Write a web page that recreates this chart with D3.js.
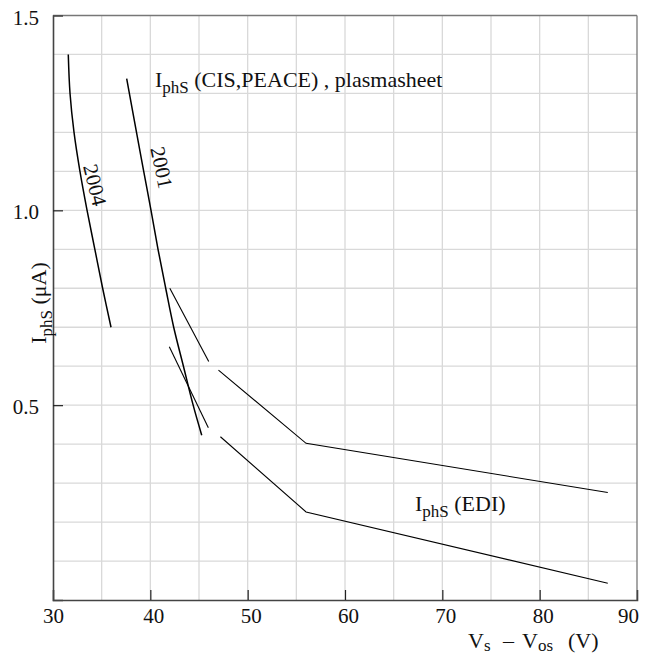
<!DOCTYPE html>
<html><head><meta charset="utf-8">
<script src="https://cdn.jsdelivr.net/npm/d3@7"></script>
<style>body{margin:0;background:#fff}svg{display:block}</style>
</head><body>
<script>
// ---- data ----
const xTicks = [30, 40, 50, 60, 70, 80, 90];
const yTicks = [0.5, 1.0, 1.5];
const xGrid = [35, 40, 45, 50, 55, 60, 65, 70, 75, 80, 85];
const yGrid = [0.1, 0.2, 0.3, 0.4, 0.5, 0.6, 0.7, 0.8, 0.9, 1.0, 1.1, 1.2, 1.3, 1.4];

const x2004 = [31.57, 31.75, 32.16, 32.77, 33.5, 34.3, 35.1, 35.96];
const y2004 = [1.40, 1.30, 1.20, 1.10, 1.00, 0.90, 0.80, 0.70];

const x2001 = [37.57, 38.58, 39.32, 40.07, 40.79, 41.58, 42.4, 43.4, 44.4, 45.28];
const y2001 = [1.338, 1.20, 1.10, 1.00, 0.90, 0.80, 0.70, 0.60, 0.50, 0.423];

const xEdiUpperA = [42.0, 46.0];
const yEdiUpperA = [0.80, 0.612];
const xEdiUpperB = [47.0, 56.0, 87.0];
const yEdiUpperB = [0.590, 0.402, 0.276];
const xEdiLowerA = [41.95, 45.96];
const yEdiLowerA = [0.650, 0.442];
const xEdiLowerB = [47.2, 56.0, 87.0];
const yEdiLowerB = [0.419, 0.226, 0.043];

// ---- chart ----
const W = 656, H = 656;
const FONT = "'Liberation Serif', 'DejaVu Serif', serif";
const FS = 22, TFS = 21, SFS = 17;
const svg = d3.select("body").append("svg").attr("width", W).attr("height", H)
  .style("font-family", FONT);

const x = d3.scaleLinear().domain([30, 90]).range([53, 637]);
const y = d3.scaleLinear().domain([0, 1.5]).range([600, 15.5]);

// grid
svg.append("g").selectAll("line").data(xGrid).join("line")
  .attr("x1", d => x(d)).attr("x2", d => x(d))
  .attr("y1", y(0)).attr("y2", y(1.5))
  .attr("stroke", "#d9d9d9").attr("stroke-width", 1.3);
svg.append("g").selectAll("line").data(yGrid).join("line")
  .attr("x1", x(30)).attr("x2", x(90))
  .attr("y1", d => y(d)).attr("y2", d => y(d))
  .attr("stroke", "#d9d9d9").attr("stroke-width", 1.3);

// frame top/right
svg.append("line").attr("x1", x(30)).attr("x2", x(90)).attr("y1", y(1.5)).attr("y2", y(1.5))
  .attr("stroke", "#777").attr("stroke-width", 1.3);
svg.append("line").attr("x1", x(90)).attr("x2", x(90)).attr("y1", y(0)).attr("y2", y(1.5))
  .attr("stroke", "#777").attr("stroke-width", 1.3);

// axes
const xAxis = d3.axisBottom(x).tickValues(xTicks).tickSize(-10).tickPadding(8)
  .tickFormat(d3.format("d"));
const gx = svg.append("g").attr("transform", `translate(0,${y(0)})`).call(xAxis);
const yAxis = d3.axisLeft(y).tickValues(yTicks).tickSize(-10).tickPadding(14)
  .tickFormat(d3.format(".1f"));
const gy = svg.append("g").attr("transform", `translate(${x(30)},0)`).call(yAxis);
[gx, gy].forEach(g => {
  g.select(".domain").attr("stroke", "#444").attr("stroke-width", 1.6);
  g.selectAll(".tick line").attr("stroke", "#222").attr("stroke-width", 1.2);
  g.selectAll(".tick text").attr("font-family", FONT).attr("font-size", TFS).attr("fill", "#111");
});
gx.selectAll(".tick text").attr("dx", d => d === 30 ? 0 : d === 90 ? -9 : 3);
gy.selectAll(".tick text").attr("dy", "0.41em");
gx.selectAll(".tick").filter(d => d === 30 || d === 90).select("line").remove();
gy.selectAll(".tick").filter(d => d === 1.5).select("line").remove();

// lines
const line = d3.line().x(d => x(d[0])).y(d => y(d[1]));
const smooth = d3.line().x(d => x(d[0])).y(d => y(d[1])).curve(d3.curveCatmullRom.alpha(0.5));
function pts(xs, ys) { return xs.map((v, i) => [v, ys[i]]); }

svg.append("path").attr("d", smooth(pts(x2004, y2004)))
  .attr("fill", "none").attr("stroke", "#000").attr("stroke-width", 1.5);
svg.append("path").attr("d", smooth(pts(x2001, y2001)))
  .attr("fill", "none").attr("stroke", "#000").attr("stroke-width", 1.5);
[[xEdiUpperA, yEdiUpperA], [xEdiUpperB, yEdiUpperB], [xEdiLowerA, yEdiLowerA], [xEdiLowerB, yEdiLowerB]]
  .forEach(([xs, ys]) => {
    svg.append("path").attr("d", line(pts(xs, ys)))
      .attr("fill", "none").attr("stroke", "#000").attr("stroke-width", 1.1);
  });

// curve labels
svg.append("text").attr("transform", `translate(${x(34.3)},${y(1.065)}) rotate(76)`)
  .attr("text-anchor", "middle").attr("dominant-baseline", "central")
  .attr("font-size", TFS).attr("fill", "#111").text("2004");
svg.append("text").attr("transform", `translate(${x(41.15)},${y(1.11)}) rotate(78)`)
  .attr("text-anchor", "middle").attr("dominant-baseline", "central")
  .attr("font-size", TFS).attr("fill", "#111").text("2001");

// annotations
function subLabel(tx, ty, main, sub, rest) {
  const t = svg.append("text").attr("x", tx).attr("y", ty).attr("font-size", FS).attr("fill", "#111");
  t.append("tspan").text(main);
  t.append("tspan").attr("font-size", SFS).attr("dy", 6).text(sub);
  t.append("tspan").attr("dy", -6).text(rest);
  return t;
}
subLabel(x(40.48), y(1.317), "I", "phS", " (CIS,PEACE) , plasmasheet");
subLabel(x(67.19), y(0.228), "I", "phS", " (EDI)");

// axis titles
const xt = svg.append("text").attr("x", 468).attr("y", 648).attr("font-size", FS).attr("fill", "#111");
xt.append("tspan").text("V");
xt.append("tspan").attr("font-size", SFS).attr("dy", 3).text("s");
xt.append("tspan").attr("dy", -3).attr("x", 503).text("\u2013");
xt.append("tspan").attr("x", 522).text("V");
xt.append("tspan").attr("font-size", SFS).attr("dy", 3).text("os");
xt.append("tspan").attr("dy", -3).attr("x", 568).text("(V)");

const yt = svg.append("text").attr("transform", `translate(46,303) rotate(-90)`)
  .attr("text-anchor", "middle").attr("font-size", FS).attr("fill", "#111");
yt.append("tspan").text("I");
yt.append("tspan").attr("font-size", SFS).attr("dy", 6).text("phS");
yt.append("tspan").attr("dy", -6).text(" (\u03bcA)");
</script>
</body></html>
